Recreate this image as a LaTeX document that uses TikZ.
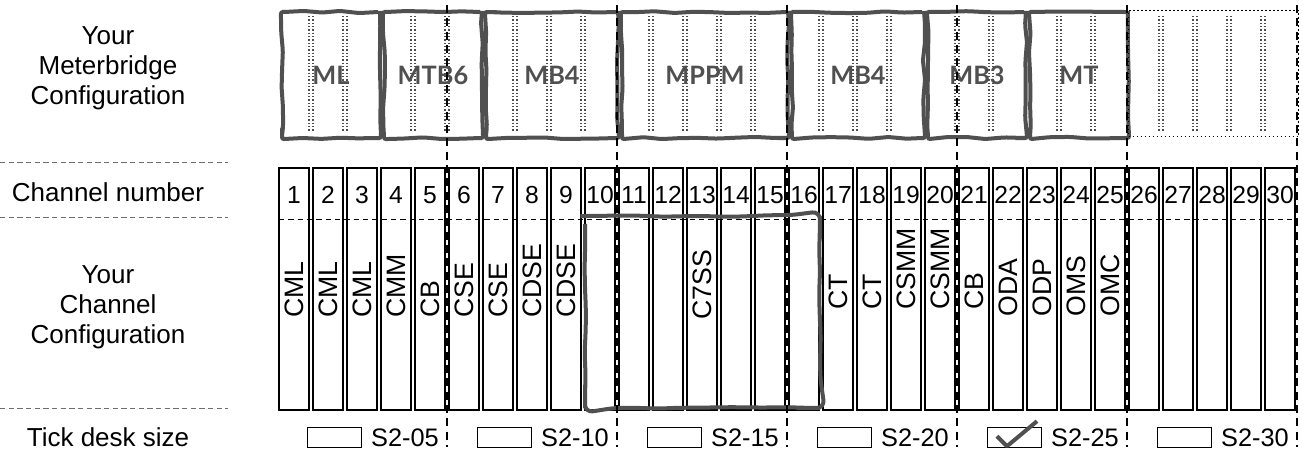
\documentclass[tikz,border=0pt]{standalone}
\usepackage{fontspec}
\setmainfont{Liberation Sans}
\newfontfamily\mbfont{Lato}
\usetikzlibrary{positioning,calc,decorations.pathmorphing}
\definecolor{mbgrey}{RGB}{80,80,80}
\definecolor{rulegrey}{RGB}{110,110,110}
\pgfmathsetseed{7}

\begin{document}
\begin{tikzpicture}[x=0.75pt,y=-0.75pt,
    rowlabel/.style={align=center, inner sep=0pt, font=\fontsize{19.5}{22.5}\selectfont},
    rowrule/.style={rulegrey, line width=0.7pt, dash pattern=on 4pt off 2.5pt},
    chan/.style={draw, line width=1.4pt, inner sep=0pt, outer sep=0pt, anchor=north west,
                 minimum width=22.5pt, minimum height=181.5pt},
    chnum/.style={inner sep=0pt, font=\fontsize{18.5}{20}\selectfont},
    chtext/.style={inner sep=0pt, rotate=90, anchor=west, font=\fontsize{20}{22}\selectfont},
    mbbox/.style={draw=mbgrey, line width=3pt, inner sep=0pt, anchor=north west,
                  minimum height=94.5pt, text=mbgrey, font=\mbfont\bfseries\fontsize{19}{22}\selectfont,
                  decorate, decoration={random steps, segment length=14pt, amplitude=0.8pt},
                  rounded corners=1.5pt},
    freebox/.style={draw, line width=0.8pt, dash pattern=on 1.2pt off 1.8pt, inner sep=0pt,
                    anchor=north west, minimum width=127.5pt, minimum height=94.5pt},
    mbdots/.style={line width=0.8pt, dash pattern=on 0.9pt off 1.6pt, black!70},
    divider/.style={line width=2.2pt, dash pattern=on 6pt off 4pt},
    tickbox/.style={draw, line width=0.9pt, inner sep=0pt, anchor=north west,
                    minimum width=40.5pt, minimum height=15pt},
    ticklabel/.style={inner sep=0pt, font=\fontsize{19}{21}\selectfont},
    check/.style={mbgrey, line width=3pt, line join=round}
]
\useasboundingbox (0,0) rectangle (1303,450);

% row labels on the left
\node[rowlabel] (lmb) at (108,68) {Your\\Meterbridge\\Configuration};
\node[rowlabel] (lnum) at (108,192) {Channel number};
\node[rowlabel] (lcfg) at (108,307) {Your\\Channel\\Configuration};
\node[rowlabel] (ltick) at (108,437) {Tick desk size};
\foreach \y in {162,217,408}
    \draw[rowrule] (0,\y) -- (228,\y);

% channel strips
\foreach \k in {1,...,30} {
    \node[chan] (ch\k) at ({279+34*(\k-1)},168) {};
    \node[chnum] (n\k) at ($(ch\k.north)+(0,27)$) {\k};
}
\draw[line width=0.6pt, dash pattern=on 4pt off 3pt]
    ($(ch1.north west)+(0,51)$) -- ($(ch30.north east)+(0,51)$);

% channel modules
\foreach \k/\lbl/\yb in {1/CML/318, 2/CML/318, 3/CML/318, 4/CMM/318, 5/CB/318,
        6/CSE/318, 7/CSE/318, 8/CDSE/318, 9/CDSE/318, 13/C7SS/320,
        17/CT/310, 18/CT/310, 19/CSMM/310, 20/CSMM/310, 21/CB/310,
        22/ODA/317, 23/ODP/317, 24/OMS/317, 25/OMC/317}
    \node[chtext] (t\k) at ({294+34*(\k-1)},\yb) {\lbl};

% the C7SS frame over channels 10--16
\draw[mbgrey, line width=3pt, rounded corners=6pt,
      decorate, decoration={random steps, segment length=16pt, amplitude=0.7pt}]
    (585,216) rectangle (820,408);

% meterbridge modules
\foreach \s/\n/\lbl [count=\m] in {1/3/ML, 4/3/MTB6, 7/4/MB4, 11/5/MPPM, 16/4/MB4, 20/3/MB3, 23/3/MT} {
    \pgfmathsetmacro\mbxl{279+34*(\s-1)+1}
    \pgfmathsetmacro\mbwidth{(34*\n-4)*0.75}
    \pgfmathtruncatemacro\mblast{\s+\n-2}
    \foreach \j in {\s,...,\mblast} {
        \draw[mbdots] ({279+34*(\j-1)+30},16) -- ({279+34*(\j-1)+30},132);
        \draw[mbdots] ({279+34*(\j-1)+34},16) -- ({279+34*(\j-1)+34},132);
    }
    \node[mbbox, minimum width=\mbwidth pt] (mb\m) at (\mbxl,10) {\lbl};
}
\node[freebox] (mbfree) at (1128,10) {};
\foreach \j in {26,...,29} {
    \draw[mbdots] ({279+34*(\j-1)+30},16) -- ({279+34*(\j-1)+30},132);
    \draw[mbdots] ({279+34*(\j-1)+34},16) -- ({279+34*(\j-1)+34},132);
}

% desk size dividers
\foreach \d in {0,...,5}
    \draw[divider] ({447+170*\d},5) -- ({447+170*\d},447);

% tick boxes
\foreach \lbl [count=\k] in {S2-05,S2-10,S2-15,S2-20,S2-25,S2-30} {
    \node[tickbox] (tb\k) at ({307+170*(\k-1)},427) {};
    \node[ticklabel, right=6.5pt of tb\k] (s\k) {\lbl};
}
\draw[check] ($(tb5.south west)+(10,-12)$) -- ($(tb5.south west)+(20,-2)$)
    -- ($(tb5.south west)+(50,-27)$);
\end{tikzpicture}
\end{document}
